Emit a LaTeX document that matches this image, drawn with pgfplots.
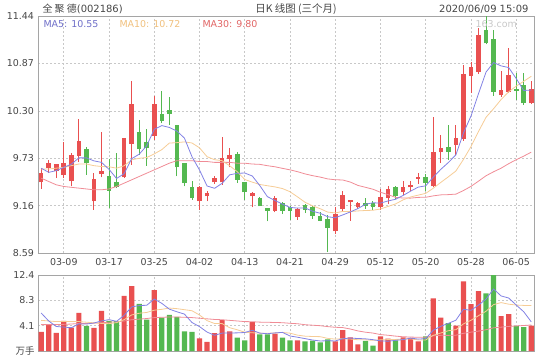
\documentclass[border=0pt]{standalone}
\usepackage{pgfplots}
\pgfplotsset{compat=1.18}
\usepackage{pgfplotstable}
\usepackage{fontspec}
\setmainfont{DejaVu Sans}
\newfontfamily\cjk{Noto Sans CJK SC}
\definecolor{upred}{RGB}{233,80,80}
\definecolor{dngreen}{RGB}{84,184,80}
\definecolor{mafive}{RGB}{130,130,228}
\definecolor{maten}{RGB}{246,204,150}
\definecolor{mathirty}{RGB}{240,140,150}
\definecolor{lfive}{RGB}{110,110,200}
\definecolor{lten}{RGB}{240,192,125}
\definecolor{lthirty}{RGB}{225,100,100}
\definecolor{framegray}{RGB}{165,165,165}
\definecolor{gridgray}{RGB}{200,200,200}
\definecolor{labgray}{RGB}{70,70,70}

\pgfplotstableread{
i O H L C V
0 9.44 9.61 9.36 9.55 3.11
1 9.61 9.71 9.55 9.67 4.21
2 9.58 9.66 9.49 9.65 2.95
3 9.53 9.93 9.49 9.66 4.92
4 9.45 9.79 9.39 9.76 3.82
5 9.76 10.20 9.69 9.93 6.23
7 9.21 9.55 9.11 9.47 3.77
8 9.54 10.05 9.50 9.57 6.56
11 9.50 9.96 9.49 9.96 9.01
12 9.90 10.66 9.65 10.37 10.60
15 10.00 10.48 9.95 10.37 9.94
21 9.21 9.39 9.11 9.38 2.08
22 9.27 9.33 9.21 9.30 1.48
23 9.44 9.52 9.42 9.48 2.90
24 9.44 9.98 9.41 9.73 5.03
25 9.72 9.85 9.62 9.76 3.22
28 9.27 9.32 9.14 9.30 4.70
31 9.10 9.28 9.08 9.24 2.84
34 9.02 9.13 8.99 9.11 1.75
39 8.85 9.14 8.82 9.05 1.58
40 9.12 9.34 9.10 9.28 3.39
41 9.20 9.22 8.98 9.22 2.24
42 9.14 9.20 9.12 9.18 1.09
45 9.14 9.36 9.11 9.26 2.40
46 9.25 9.40 9.18 9.35 2.02
48 9.32 9.45 9.29 9.38 2.24
49 9.38 9.46 9.34 9.40 2.13
50 9.48 9.55 9.42 9.50 1.58
52 9.39 10.22 9.38 9.80 8.58
53 9.80 10.01 9.67 9.85 5.46
55 9.89 10.13 9.77 9.96 4.15
56 9.96 10.85 9.94 10.74 11.36
57 10.72 10.89 10.52 10.82 7.65
58 10.77 11.29 10.74 11.20 9.78
61 10.49 10.78 10.47 10.54 5.68
62 10.53 11.05 10.52 10.72 6.01
65 10.39 10.66 10.38 10.56 4.15
}\upc

\pgfplotstableread{
i O H L C V
6 9.83 9.86 9.53 9.67 4.10
9 9.51 9.72 9.13 9.34 4.92
10 9.43 9.79 9.37 9.38 4.86
13 10.04 10.19 9.77 9.84 7.70
14 9.92 10.08 9.64 9.85 5.14
16 10.25 10.54 10.15 10.18 5.46
17 10.30 10.46 10.13 10.26 5.90
18 10.12 10.12 9.51 9.62 5.57
19 9.66 9.66 9.39 9.43 3.22
20 9.37 9.45 9.23 9.25 3.11
26 9.77 9.80 9.43 9.47 2.19
27 9.44 9.44 9.23 9.32 1.75
29 9.24 9.26 9.15 9.15 2.73
30 9.12 9.12 8.97 9.10 2.73
32 9.18 9.20 9.06 9.10 2.19
33 9.14 9.16 8.99 9.10 1.75
35 9.16 9.18 9.07 9.11 1.58
36 9.14 9.16 9.00 9.04 1.69
37 9.03 9.08 8.97 8.98 1.42
38 8.99 9.05 8.60 8.89 1.91
43 9.18 9.25 9.12 9.15 1.64
44 9.18 9.21 9.11 9.14 0.87
47 9.37 9.39 9.24 9.28 1.75
51 9.50 9.54 9.33 9.43 2.40
54 9.86 10.13 9.71 9.81 4.53
59 11.26 11.44 11.10 11.11 9.40
60 11.16 11.27 10.48 10.53 12.40
63 10.55 10.75 10.43 10.54 4.04
64 10.60 10.76 10.37 10.39 3.88
}\dnc

\pgfplotstableread{
i m5 m10 m30
0 9.61 9.60 9.49
1 9.56 9.60 9.45
2 9.58 9.61 9.41
3 9.62 9.62 9.39
4 9.658 9.64 9.38
5 9.734 9.66 9.37
6 9.734 9.66 9.36
7 9.698 9.64 9.35
8 9.68 9.63 9.35
9 9.596 9.627 9.36
10 9.486 9.61 9.39
11 9.544 9.639 9.43
12 9.724 9.711 9.47
13 9.778 9.729 9.51
14 9.88 9.738 9.55
15 10.078 9.782 9.59
16 10.122 9.833 9.63
17 10.10 9.912 9.67
18 10.056 9.917 9.70
19 9.972 9.926 9.70
20 9.748 9.913 9.70
21 9.588 9.855 9.69
22 9.396 9.748 9.69
23 9.368 9.712 9.68
24 9.428 9.700 9.68
25 9.53 9.639 9.68
26 9.548 9.568 9.67
27 9.552 9.474 9.67
28 9.516 9.442 9.66
29 9.40 9.414 9.656
30 9.268 9.399 9.640
31 9.222 9.385 9.627
32 9.178 9.365 9.608
33 9.138 9.327 9.590
34 9.13 9.265 9.568
35 9.132 9.20 9.541
36 9.092 9.157 9.520
37 9.068 9.123 9.503
38 9.026 9.082 9.481
39 9.014 9.072 9.471
40 9.048 9.09 9.468
41 9.084 9.088 9.443
42 9.124 9.096 9.403
43 9.176 9.101 9.380
44 9.194 9.104 9.357
45 9.19 9.119 9.320
46 9.216 9.15 9.292
47 9.236 9.18 9.259
48 9.282 9.229 9.251
49 9.334 9.264 9.250
50 9.382 9.286 9.259
51 9.398 9.307 9.260
52 9.502 9.369 9.277
53 9.596 9.439 9.289
54 9.678 9.506 9.292
55 9.77 9.576 9.298
56 10.032 9.715 9.341
57 10.236 9.869 9.391
58 10.506 10.051 9.454
59 10.766 10.222 9.519
60 10.88 10.325 9.567
61 10.84 10.436 9.61
62 10.82 10.528 9.664
63 10.688 10.597 9.712
64 10.544 10.655 9.755
65 10.55 10.715 9.803
}\pma

\pgfplotstableread{
i a5 a10 a30
0 6.2 5.0 4.3
1 4.9 4.9 4.3
2 4.0 4.8 4.3
3 3.9 4.8 4.35
4 3.80 4.8 4.4
5 4.43 4.8 4.5
6 4.40 4.7 4.5
7 4.57 4.6 4.55
8 4.90 4.5 4.6
9 5.12 4.46 4.7
10 4.84 4.63 4.75
11 5.82 5.11 4.9
12 7.19 5.88 5.1
13 7.42 6.16 5.2
14 7.46 6.29 5.3
15 8.48 6.66 5.45
16 7.77 6.80 5.5
17 6.83 7.01 5.55
18 6.40 6.91 5.55
19 6.02 6.74 5.5
20 4.65 6.57 5.45
21 3.98 5.87 5.35
22 3.09 4.96 5.25
23 2.56 4.48 5.15
24 2.92 4.47 5.1
25 2.94 3.80 5.0
26 2.96 3.47 4.9
27 3.02 3.06 4.8
28 3.38 2.97 4.78
29 2.92 2.92 4.71
30 2.82 2.88 4.69
31 2.95 2.96 4.65
32 3.04 3.03 4.62
33 2.45 2.91 4.52
34 2.25 2.59 4.45
35 2.02 2.42 4.29
36 1.79 2.37 4.21
37 1.64 2.34 4.13
38 1.67 2.06 3.98
39 1.64 1.94 3.87
40 2.00 2.01 3.82
41 2.11 1.95 3.59
42 2.04 1.84 3.28
43 1.99 1.83 3.07
44 1.85 1.74 2.93
45 1.65 1.82 2.68
46 1.60 1.86 2.57
47 1.74 1.89 2.43
48 1.86 1.92 2.32
49 2.11 1.98 2.28
50 1.94 1.80 2.23
51 2.02 1.81 2.24
52 3.39 2.56 2.48
53 4.03 2.94 2.56
54 4.51 3.31 2.55
55 5.02 3.48 2.58
56 6.82 4.42 2.88
57 6.63 5.01 3.08
58 7.49 5.76 3.25
59 8.47 6.49 3.47
60 10.12 7.57 3.79
61 8.98 7.90 3.89
62 8.65 7.64 4.01
63 7.51 7.50 4.09
64 6.40 7.44 4.16
65 4.75 7.44 4.25
}\vma

\pgfplotsset{
  kbase/.style={
    scale only axis, width=496bp,
    xmin=-0.42, xmax=65.36,
    xtick={3,9,...,63},
    grid=major,
    major grid style={draw=gridgray, line width=0.6bp, dash pattern=on 2bp off 2bp},
    axis line style={draw=framegray, line width=0.8bp},
    major tick length=0pt, tick style={draw=none},
    ticklabel style={font=\fontsize{9.5}{11}\selectfont, text=labgray},
    /pgf/number format/assume math mode=true,
    clip=true,
  },
  wick/.style={draw=none, mark=none, forget plot,
    error bars/.cd, y dir=plus, y explicit, error mark=none,
    error bar style={draw=#1, line width=0.9bp, solid}},
  body/.style={draw=none, mark=none, forget plot,
    error bars/.cd, y dir=plus, y explicit, error mark=none,
    error bar style={draw=#1, line width=4.6bp, solid}},
}

\begin{document}
\begin{tikzpicture}
\useasboundingbox (-38bp,-344bp) rectangle (502bp,16bp);

\begin{axis}[kbase, name=main, at={(0,0)}, anchor=north west,
  height=237bp, ymin=8.59, ymax=11.44,
  xticklabels={03-09,03-17,03-25,04-02,04-13,04-21,04-29,05-12,05-20,05-28,06-05},
  xticklabel style={yshift=-1.5bp},
  ytick={8.59,9.16,9.73,10.30,10.87,11.44},
  yticklabels={8.59,9.16,9.73,10.30,10.87,11.44},
  yticklabel style={xshift=-0.5bp},
]
\addplot[wick=upred] table[x=i, y=L, y error plus expr=\thisrow{H}-\thisrow{L}] {\upc};
\addplot[body=upred] table[x=i, y=O, y error plus expr=\thisrow{C}-\thisrow{O}+0.008] {\upc};
\addplot[wick=dngreen] table[x=i, y=L, y error plus expr=\thisrow{H}-\thisrow{L}] {\dnc};
\addplot[body=dngreen] table[x=i, y=C, y error plus expr=\thisrow{O}-\thisrow{C}+0.008] {\dnc};
\addplot[mathirty, line width=0.8bp, mark=none] table[x=i, y=m30] {\pma};
\addplot[maten, line width=0.8bp, mark=none] table[x=i, y=m10] {\pma};
\addplot[mafive, line width=0.8bp, mark=none] table[x=i, y=m5] {\pma};
\end{axis}

\begin{axis}[kbase, name=vol, at={(0,-259bp)}, anchor=north west,
  height=76bp, ymin=0, ymax=12.4,
  xticklabels={},
  ytick={0,4.1333,8.2667,12.4},
  yticklabels={{\cjk 万手},4.1,8.3,12.4},
]
\addplot[ybar, bar width=5.2bp, bar shift=0pt, fill=upred, draw=none] table[x=i, y=V] {\upc};
\addplot[ybar, bar width=5.2bp, bar shift=0pt, fill=dngreen, draw=none] table[x=i, y=V] {\dnc};
\addplot[mathirty, line width=0.8bp, mark=none] table[x=i, y=a30] {\vma};
\addplot[maten, line width=0.8bp, mark=none] table[x=i, y=a10] {\vma};
\addplot[mafive, line width=0.8bp, mark=none] table[x=i, y=a5] {\vma};
\end{axis}

\node[anchor=base west, text=labgray, font=\fontsize{10}{12}\selectfont] at (1bp,4bp) {{\cjk 全 聚 德}(002186)};
\node[anchor=base, text=labgray, font=\fontsize{10.5}{12}\selectfont\cjk] at (258bp,4bp) {日K 线图 (三个月)};
\node[anchor=base east, text=labgray, font=\fontsize{10}{12}\selectfont] at (494bp,4bp) {2020/06/09 15:09};
\node[anchor=base west, text=lfive, font=\fontsize{9.5}{11}\selectfont] at (2bp,-11bp) {MA5: 10.55};
\node[anchor=base west, text=lten, font=\fontsize{9.5}{11}\selectfont] at (78bp,-11bp) {MA10: 10.72};
\node[anchor=base west, text=lthirty, font=\fontsize{9.5}{11}\selectfont] at (161bp,-11bp) {MA30: 9.80};
\node[anchor=base west, text=gridgray, font=\fontsize{9.5}{11}\selectfont] at (434bp,-11bp) {163.com};
\end{tikzpicture}
\end{document}
